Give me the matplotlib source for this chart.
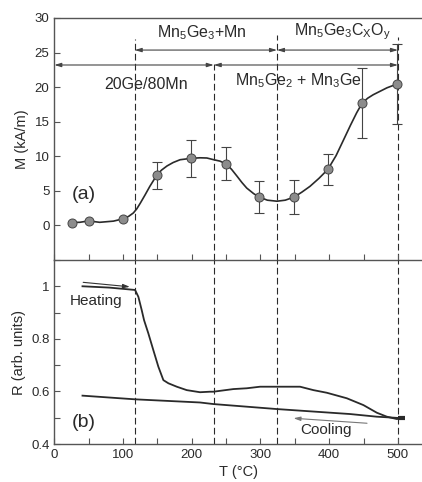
import matplotlib
matplotlib.use("Agg")
import matplotlib.pyplot as plt
from matplotlib.ticker import MultipleLocator, FixedLocator, FixedFormatter

# panel (a): magnetisation points with error bars
T_pts = [26, 50, 100, 149, 199, 250, 298, 349, 398, 448, 499]
M_pts = [0.4, 0.65, 0.95, 7.25, 9.7, 8.9, 4.1, 4.1, 8.1, 17.7, 20.4]
M_err = [0, 0, 0, 1.95, 2.7, 2.4, 2.35, 2.4, 2.2, 5.0, 5.8]

# smooth guide line through the points
T_fit = [26, 37, 50, 66, 86, 100, 108, 115, 120, 125, 132, 139, 149, 156, 164,
         173, 183, 199, 212, 222, 232, 241, 250, 258, 266, 273, 280, 290, 298,
         310, 324, 336, 349, 360, 372, 385, 398, 410, 421, 431, 440, 448, 456,
         464, 474, 484, 492, 499]
M_fit = [0.43, 0.45, 0.65, 0.45, 0.62, 0.95, 1.3, 1.8, 2.4, 3.2, 4.4, 5.65, 7.25,
         8.0, 8.6, 9.1, 9.5, 9.7, 9.78, 9.75, 9.5, 9.3, 8.9, 8.1, 7.1, 6.2, 5.4,
         4.6, 4.1, 3.65, 3.5, 3.65, 4.1, 4.8, 5.65, 6.8, 8.1, 10.1, 12.4, 14.5,
         16.3, 17.7, 18.4, 18.9, 19.4, 19.9, 20.2, 20.4]

# panel (b): resistance on heating and cooling
T_heat = [41, 80, 117.5, 122.3, 127.2, 130.6, 136.8, 144.1, 151.4, 158.7, 166,
          178.2, 192.7, 212, 226.6, 231.5, 260.6, 280, 299.4, 357.6, 377, 396.5,
          425.6, 449.8, 469.3, 483.8, 498.4, 508]
R_heat = [1.0, 0.995, 0.986, 0.96, 0.909, 0.871, 0.821, 0.757, 0.694, 0.643,
          0.631, 0.618, 0.605, 0.597, 0.599, 0.599, 0.609, 0.612, 0.618, 0.618,
          0.605, 0.595, 0.574, 0.548, 0.519, 0.504, 0.495, 0.498]
T_cool = [41, 117.5, 212, 231.5, 323.7, 430.5, 469, 508]
R_cool = [0.584, 0.57, 0.558, 0.552, 0.533, 0.514, 0.504, 0.498]

# phase boundaries (T) and how high the dashes go in panel (a)
T_bound = [117, 232, 324, 500]
M_bound_top = [27.0, 23.3, 27.6, 27.2]

plt.rcParams['font.family'] = 'Liberation Sans'
plt.rcParams['mathtext.fontset'] = 'custom'
plt.rcParams['mathtext.rm'] = 'Liberation Sans'
plt.rcParams['mathtext.it'] = 'Liberation Sans:italic'
plt.rcParams['mathtext.default'] = 'regular'

dark = '#2a2a2a'
spine = '#555555'
dash = (0, (6, 3))

fig = plt.figure(figsize=(4.22, 4.82), dpi=100)
ax1 = fig.add_axes([0.1287, 0.4606, 0.8713, 0.5021])
ax2 = fig.add_axes([0.1287, 0.0788, 0.8713, 0.3818], sharex=ax1)
ax2.patch.set_visible(False)

xmax = 535

# ---- (a)
ax1.plot(T_fit, M_fit, color=dark, lw=1.2, zorder=3)
ax1.errorbar(T_pts[3:], M_pts[3:], yerr=M_err[3:], fmt='none', ecolor='#444444',
             elinewidth=0.8, capsize=3.5, capthick=0.8, zorder=2)
ax1.plot(T_pts, M_pts, 'o', ms=6.5, mfc='#8c8c8c', mec='#444444', mew=0.7, zorder=4)

for t, top in zip(T_bound, M_bound_top):
    ax1.plot([t, t], [-5, top], color=dark, lw=0.8, ls=dash, zorder=1)
    ax2.axvline(t, color=dark, lw=0.8, ls=dash, zorder=1)

arr = dict(arrowstyle='<|-|>,head_length=0.4,head_width=0.12', color='#444444',
           lw=0.8, shrinkA=0, shrinkB=0)
ax1.annotate('', xy=(324, 25.36), xytext=(117, 25.36), arrowprops=arr)
ax1.annotate('', xy=(500, 25.36), xytext=(324, 25.36), arrowprops=arr)
ax1.annotate('', xy=(232, 23.2), xytext=(0, 23.2), arrowprops=arr)
ax1.annotate('', xy=(500, 23.2), xytext=(232, 23.2), arrowprops=arr)

fs = 11.5
ax1.text(133, 20.4, '20Ge/80Mn', fontsize=fs, color=dark, ha='center', va='center')
ax1.text(214.6, 27.9, r'Mn$_5$Ge$_3$+Mn', fontsize=fs, color=dark, ha='center', va='center')
ax1.text(419.5, 28.0, r'Mn$_5$Ge$_3$C$_X$O$_y$', fontsize=fs, color=dark, ha='center', va='center')
ax1.text(355, 21.0, r'Mn$_5$Ge$_2$ + Mn$_3$Ge', fontsize=fs, color=dark, ha='center', va='center')
ax1.text(42.5, 4.45, '(a)', fontsize=14, color=dark, ha='center', va='center')

ax1.set_xlim(0, xmax)
ax1.set_ylim(-5, 30)
ax1.yaxis.set_major_locator(FixedLocator([-5, 0, 5, 10, 15, 20, 25, 30]))
ax1.yaxis.set_major_formatter(FixedFormatter(['', '0', '5', '10', '15', '20', '25', '30']))
ax1.xaxis.set_major_locator(MultipleLocator(50))
ax1.tick_params(axis='x', labelbottom=False)
ax1.set_ylabel('M (kA/m)', fontsize=10.5, color=dark, labelpad=4)
ax1.spines['right'].set_visible(False)

# ---- (b)
ax2.plot(T_heat, R_heat, color=dark, lw=1.3)
ax2.plot(T_cool, R_cool, color=dark, lw=1.3)
ax2.plot([500, 510], [0.498, 0.498], color=dark, lw=3, solid_capstyle='butt')
ax2.annotate('', xy=(110, 0.998), xytext=(42, 1.015),
             arrowprops=dict(arrowstyle='-|>,head_length=0.4,head_width=0.12',
                             color='#333333', lw=0.8, shrinkA=0, shrinkB=0))
ax2.annotate('', xy=(348, 0.498), xytext=(455, 0.479),
             arrowprops=dict(arrowstyle='-|>,head_length=0.4,head_width=0.12',
                             color='#777777', lw=0.8, shrinkA=0, shrinkB=0))
ax2.text(60.7, 0.944, 'Heating', fontsize=11, color=dark, ha='center', va='center')
ax2.text(395.5, 0.453, 'Cooling', fontsize=11, color=dark, ha='center', va='center')
ax2.text(43, 0.48, '(b)', fontsize=14, color=dark, ha='center', va='center')

ax2.set_ylim(0.4, 1.1)
ax2.yaxis.set_major_locator(FixedLocator([0.4, 0.6, 0.8, 1.0]))
ax2.yaxis.set_major_formatter(FixedFormatter(['0.4', '0.6', '0.8', '1']))
ax2.yaxis.set_minor_locator(FixedLocator([0.5, 0.7, 0.9]))
ax2.xaxis.set_major_locator(FixedLocator([0, 100, 200, 300, 400, 500]))
ax2.xaxis.set_minor_locator(FixedLocator([50, 150, 250, 350, 450]))
ax2.set_xlabel('T (°C)', fontsize=10.5, color=dark, labelpad=3)
ax2.set_ylabel('R (arb. units)', fontsize=10.5, color=dark, labelpad=4)
ax2.spines['right'].set_visible(False)
ax2.spines['top'].set_visible(False)

for ax in (ax1, ax2):
    ax.tick_params(which='both', direction='in', color=spine, labelcolor=dark,
                   labelsize=9.5, width=0.8)
    ax.tick_params(which='major', length=4)
    ax.tick_params(which='minor', length=4)
    for s in ax.spines.values():
        s.set_color(spine)
        s.set_linewidth(1.0)

fig.savefig('out.png', dpi=100)
